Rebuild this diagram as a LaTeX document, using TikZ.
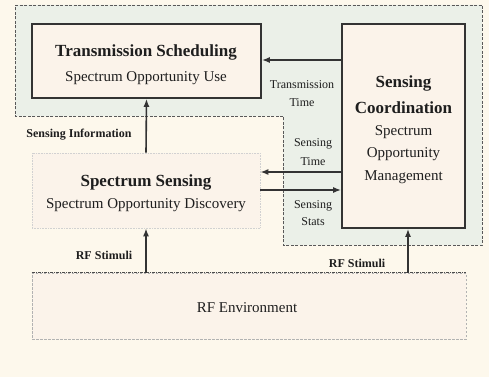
\documentclass[tikz,border=0pt]{standalone}
\usepackage{fontspec}
\setmainfont{Liberation Serif}
\usetikzlibrary{arrows.meta}
\definecolor{paper}{HTML}{FDF8EC}
\definecolor{zone}{HTML}{EBF0E8}
\definecolor{boxfill}{HTML}{FBF3EA}
\definecolor{ink}{HTML}{1E1E1E}
\definecolor{edge}{HTML}{333333}
\tikzset{
  block/.style={draw=edge, line width=1.6pt, fill=boxfill, inner sep=0pt},
  softblock/.style={draw=black!18, line width=0.6pt, densely dotted, fill=boxfill, inner sep=0pt},
  arr/.style={draw=edge, line width=1.6pt, -{Latex[length=8pt,width=6pt]}},
  title/.style={font=\fontsize{17}{20}\selectfont\bfseries, text=ink, inner sep=0pt},
  sub/.style={font=\fontsize{15}{18}\selectfont, text=ink, inner sep=0pt},
  lbl/.style={font=\fontsize{12}{18}\selectfont, text=ink, inner sep=0pt, align=center},
  blbl/.style={font=\fontsize{12}{15}\selectfont\bfseries, text=ink, inner sep=0pt},
}
\begin{document}
\begin{tikzpicture}[x=1pt,y=-1pt]
  % page
  \fill[paper] (0,0) rectangle (489,377);
  \useasboundingbox (0,0) rectangle (489,377);

  % shaded control zone (dashed outline)
  \filldraw[fill=zone, draw=black!65, line width=0.8pt, dash pattern=on 3pt off 1.5pt]
    (15,5) -- (482,5) -- (482,245) -- (283,245) -- (283,116) -- (15,116) -- cycle;

  % blocks
  \node[block, minimum width=229, minimum height=74] (ts) at (146.5,61) {};
  \node[block, minimum width=123, minimum height=204] (sc) at (403.5,126) {};
  \node[softblock, minimum width=228, minimum height=75] (ss) at (146,190.5) {};
  \node[draw=black!30, line width=0.6pt, dash pattern=on 2.5pt off 1.5pt,
        fill=boxfill, minimum width=434, minimum height=66, inner sep=0pt] (rf) at (249,306) {};
  \draw[black!70, line width=0.8pt, dash pattern=on 3pt off 1pt on 1pt off 1pt]
    (rf.north west) -- (rf.north east);

  % block texts
  \node[title] (tsT) at (146,52) {Transmission Scheduling};
  \node[sub]   (tsS) at (146,78) {Spectrum Opportunity Use};
  \node[title] (ssT) at (146,182) {Spectrum Sensing};
  \node[sub]   (ssS) at (146,205) {Spectrum Opportunity Discovery};
  \node[title] (scT1) at (403.5,83) {Sensing};
  \node[title] (scT2) at (403.5,108) {Coordination};
  \node[sub]   (scS1) at (403.5,132) {Spectrum};
  \node[sub]   (scS2) at (403.5,154) {Opportunity};
  \node[sub]   (scS3) at (403.5,177) {Management};
  \node[sub]   (rfT) at (247,308) {RF Environment};

  % connectors
  \draw[arr] (ss.north) -- (ts.south);
  \draw[arr] (sc.west |- 0,60) -- (ts.east |- 0,60);
  \draw[arr] (sc.west |- 0,172) -- (ss.east |- 0,172);
  \draw[arr] (ss.east |- 0,190) -- (sc.west |- 0,190);
  \draw[arr] (rf.north -| ss.south) -- (ss.south);
  \draw[arr] (rf.north -| 408,0) -- (sc.south -| 408,0);

  % connector labels
  \node[blbl] (lInfo) at (79,135) {Sensing Information};
  \node[lbl] (lTx) at (302,94) {Transmission\\Time};
  \node[lbl, font=\fontsize{12}{19}\selectfont] (lST) at (313,152.5) {Sensing\\Time};
  \node[lbl, font=\fontsize{12}{17}\selectfont] (lSS) at (313,213.5) {Sensing\\Stats};
  \node[blbl] (lRF1) at (104,255) {RF Stimuli};
  \node[blbl] (lRF2) at (357,263) {RF Stimuli};
\end{tikzpicture}
\end{document}
